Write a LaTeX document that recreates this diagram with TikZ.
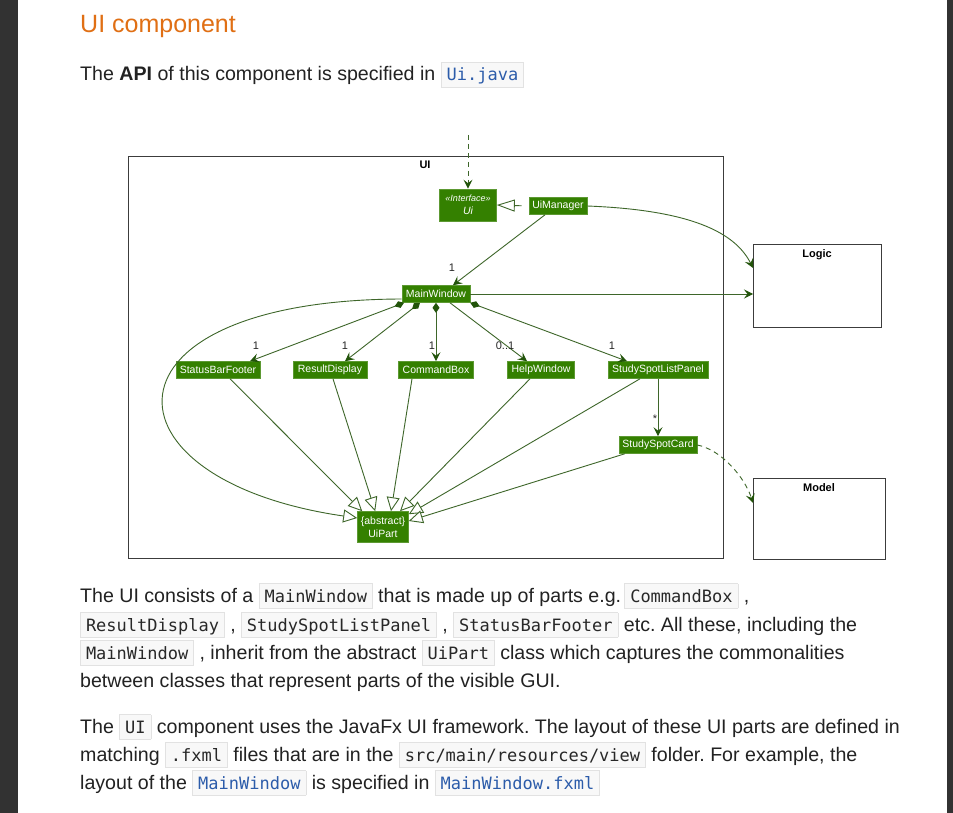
\documentclass[tikz,border=0pt]{standalone}
\usepackage{fontspec}
\setmainfont{Liberation Sans}
\newfontfamily\codefont{DejaVu Sans Mono}
\usetikzlibrary{arrows.meta,positioning}
\frenchspacing

\definecolor{uigreen}{RGB}{52,128,0}
\definecolor{uiline}{RGB}{62,102,42}
\definecolor{uihead}{RGB}{34,84,10}
\definecolor{pkgline}{RGB}{60,60,60}
\definecolor{headorange}{RGB}{224,111,20}
\definecolor{bodytext}{RGB}{34,34,34}
\definecolor{cdbg}{RGB}{248,248,248}
\definecolor{cdline}{RGB}{226,226,226}
\definecolor{cdtext}{RGB}{40,40,40}
\definecolor{cdblue}{RGB}{44,92,170}
\definecolor{sidebar}{RGB}{50,50,50}

\newcommand{\dgfont}{\fontsize{10.5}{12.5}\selectfont}
\newcommand{\multfont}{\fontsize{11}{13}\selectfont}
\newcommand{\bodyfont}{\fontsize{19.6}{22}\selectfont}
\newcommand{\cd}[1]{{\setlength{\fboxsep}{0pt}\setlength{\fboxrule}{0.8pt}%
  \fcolorbox{cdline}{cdbg}{\hspace{5pt}\rule[-6pt]{0pt}{24pt}{\codefont\fontsize{17}{20}\selectfont\color{cdtext}#1}\hspace{5pt}}}}
\newcommand{\cdlink}[1]{{\setlength{\fboxsep}{0pt}\setlength{\fboxrule}{0.8pt}%
  \fcolorbox{cdline}{cdbg}{\hspace{5pt}\rule[-6pt]{0pt}{24pt}{\codefont\fontsize{17}{20}\selectfont\color{cdblue}#1}\hspace{5pt}}}}

\tikzset{
  cls/.style={fill=uigreen, draw=uigreen!80!white, line width=0.6pt, text=white,
    font=\dgfont, inner sep=0pt, minimum height=17pt},
  pkg/.style={draw=pkgline, line width=1.3pt, fill=white, inner sep=0pt},
  pkgtitle/.style={font=\fontsize{11}{13}\selectfont\bfseries, inner sep=0pt},
  edge/.style={draw=uiline, line width=0.9pt},
  arr/.style={edge, -{Stealth[length=9pt,width=9pt,inset=3.5pt,color=uihead]}},
  comp/.style={edge, {Diamond[length=10pt,width=7pt,color=uihead]}-{Stealth[length=9pt,width=9pt,inset=3.5pt,color=uihead]}},
  inh/.style={edge, -{Triangle[open,length=14pt,width=13pt,fill=white]}},
  dep/.style={arr, dash pattern=on 5pt off 4pt},
  mult/.style={font=\multfont, text=black!85, inner sep=0pt},
  body/.style={font=\bodyfont, text=bodytext, inner sep=0pt, anchor=base west}
}

\begin{document}
\begin{tikzpicture}[x=1pt,y=-1pt]
\useasboundingbox (0,0) rectangle (953,813);
\fill[white] (0,0) rectangle (953,813);
\fill[sidebar] (0,0) rectangle (18,813);
\fill[sidebar] (947,0) rectangle (953,813);

% page text above the diagram
\node[body, font=\fontsize{25}{30}\selectfont, text=headorange] (head) at (80,33) {UI component};
\node[body] (api) at (80,81) {The \textbf{API} of this component is specified in \cdlink{Ui.java}};

% packages
\node[pkg, anchor=north west, minimum width=595pt, minimum height=402pt] (uipkg) at (128,156) {};
\node[pkgtitle] (uititle) at (425,165) {UI};
\node[pkg, anchor=north west, minimum width=128pt, minimum height=83pt] (logic) at (753,244) {};
\node[pkgtitle] (logictitle) at (817,255) {Logic};
\node[pkg, anchor=north west, minimum width=132pt, minimum height=81pt] (model) at (753,478) {};
\node[pkgtitle] (modeltitle) at (819,488) {Model};

% classes
\node[cls, minimum width=57pt, minimum height=32pt, align=center, font=\dgfont\itshape] (ui) at (468,205)
  {{\fontsize{9}{10.5}\selectfont «Interface»}\\Ui};
\node[cls, minimum width=58pt] (uimgr) at (558,206) {UiManager};
\node[cls, minimum width=68pt] (mainwin) at (436,294) {MainWindow};
\node[cls, minimum width=84pt] (sbf) at (218,370) {StatusBarFooter};
\node[cls, minimum width=74pt] (rd) at (330,370) {ResultDisplay};
\node[cls, minimum width=75pt] (cb) at (436,370) {CommandBox};
\node[cls, minimum width=67pt] (hw) at (541,370) {HelpWindow};
\node[cls, minimum width=100pt] (sslp) at (658,370) {StudySpotListPanel};
\node[cls, minimum width=78pt] (ssc) at (658,445) {StudySpotCard};
\node[cls, minimum width=51pt, minimum height=31pt, align=center] (uipart) at (383,527) {\{abstract\}\\UiPart};

% connectors
\coordinate (apiin) at (468,135);
\draw[dep] (apiin) -- (ui.north);
\draw[edge, -{Triangle[open,length=18pt,width=12pt,fill=white]}, shorten <=7pt] (uimgr.west) -- (ui.east);
\draw[arr] ([xshift=-13pt]uimgr.south) -- ([xshift=17pt]mainwin.north);
\draw[arr] (uimgr.east) .. controls (690,210) and (735,232) .. ([yshift=-24pt]logic.north west);
\draw[arr] (mainwin.east) -- (mainwin.east -| logic.west);

\draw[comp] ([xshift=-32pt]mainwin.south) -- ([xshift=32pt]sbf.north);
\draw[comp] ([xshift=-16pt]mainwin.south) -- ([xshift=15pt]rd.north);
\draw[comp] (mainwin.south) -- (cb.north);
\draw[arr] ([xshift=14pt]mainwin.south) -- ([xshift=-14pt]hw.north);
\draw[comp] (mainwin.south east) -- ([xshift=-31pt]sslp.north);
\draw[arr] (sslp) -- (ssc);

\node[mult] (m1) at (452,268) {1};
\node[mult] (m2) at (256,346) {1};
\node[mult] (m3) at (345,346) {1};
\node[mult] (m4) at (432,346) {1};
\node[mult] (m5) at (505,346) {0..1};
\node[mult] (m6) at (612,346) {1};
\node[mult] (m7) at (655,419) {*};

\draw[inh] ([yshift=-5pt]mainwin.west) .. controls (90,300) and (95,480) .. ([yshift=9pt]uipart.west);
\draw[inh] ([xshift=12pt]sbf.south) -- ([xshift=5pt]uipart.north west);
\draw[inh] ([xshift=3pt]rd.south) -- ([xshift=18pt]uipart.north west);
\draw[inh] ([xshift=-24pt]cb.south) -- ([xshift=8pt]uipart.north);
\draw[inh] ([xshift=-11pt]hw.south) -- ([xshift=17pt]uipart.north);
\draw[inh] ([xshift=-18pt]sslp.south) -- ([yshift=-3pt]uipart.north east);
\draw[inh] ([xshift=6pt]ssc.south west) -- ([yshift=6pt]uipart.east);

\draw[dep] (ssc.east) .. controls (722,450) and (745,478) .. ([yshift=-25pt]model.north west);

% page text below the diagram
\node[body] (p1) at (80,602) {The UI consists of a \cd{MainWindow} that is made up of parts e.g.\,\cd{CommandBox} ,};
\node[body] (p2) at (80,631) {\cd{ResultDisplay} , \cd{StudySpotListPanel} , \cd{StatusBarFooter} etc. All these, including the};
\node[body] (p3) at (80,659) {\cd{MainWindow} , inherit from the abstract \cd{UiPart} class which captures the commonalities};
\node[body] (p4) at (80,687) {between classes that represent parts of the visible GUI.};
\node[body] (q1) at (80,733) {The \cd{UI} component uses the JavaFx UI framework. The layout of these UI parts are defined in};
\node[body] (q2) at (80,761) {matching \cd{.fxml} files that are in the \cd{src/main/resources/view} folder. For example, the};
\node[body] (q3) at (80,789) {layout of the \cdlink{MainWindow} is specified in \cdlink{MainWindow.fxml}};
\end{tikzpicture}
\end{document}
